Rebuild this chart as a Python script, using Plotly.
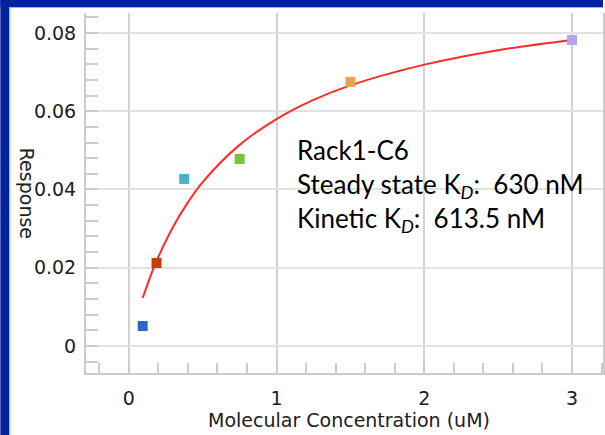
import plotly.graph_objects as go

# Data
conc_uM = [0.09375, 0.1875, 0.375, 0.75, 1.5, 3.0]
response = [0.0051, 0.0212, 0.0427, 0.0478, 0.0675, 0.0782]
point_colors = ["#2c66c8", "#c43c0c", "#48b2c6", "#76c436", "#e6a54e", "#b4a2f0"]

fit_x = [0.094, 0.15, 0.2, 0.3, 0.4, 0.5, 0.75, 1.0, 1.25, 1.5, 2.0, 2.5, 3.0]
fit_y = [0.0123, 0.0182, 0.0228, 0.0305, 0.0367, 0.0419, 0.0514, 0.0580, 0.0629, 0.0666, 0.0719, 0.0756, 0.0782]

x_ticks = [0, 1, 2, 3]
y_ticks = [0, 0.02, 0.04, 0.06, 0.08]
y_ticktext = ["0", "0.02", "0.04", "0.06", "0.08"]

label_lines = ["Rack1-C6",
               "Steady state K<sub><i>D</i></sub>:\u00a0 630 nM",
               "Kinetic K<sub><i>D</i></sub>:\u00a0 613.5 nM"]

W, H = 605, 435
L, R, T, B = 86, 0, 13, 62
pw, ph = W - L - R, H - T - B

def px(xp):
    return (xp - L) / pw

def py(yp):
    return (H - B - yp) / ph

fig = go.Figure()
fig.add_trace(go.Scatter(x=fit_x, y=fit_y, mode="lines", line=dict(color="#ff2a2a", width=2, shape="spline"),
                         hoverinfo="skip", showlegend=False))
fig.add_trace(go.Scatter(x=conc_uM, y=response, mode="markers",
                         marker=dict(symbol="square", size=10, color=point_colors, line=dict(width=0)),
                         showlegend=False))

tickfont = dict(family="DejaVu Sans", size=19, color="#202020")
fig.update_xaxes(range=[-0.29, 3.21], tickvals=x_ticks, ticks="", showgrid=True,
                 gridcolor="#d2d2d2", gridwidth=2, zeroline=False,
                 showline=True, linecolor="#cccccc", linewidth=2,
                 tickfont=tickfont, ticklabelstandoff=7,
                 minor=dict(dtick=0.2, tick0=0, ticks="inside", ticklen=10, tickcolor="#cccccc", tickwidth=2, showgrid=False))
fig.update_yaxes(range=[-0.0069, 0.0851], tickvals=y_ticks, ticktext=y_ticktext,
                 ticks="", showgrid=True, gridcolor="#e2e2e2", gridwidth=2, zeroline=False,
                 showline=True, linecolor="#cccccc", linewidth=2, mirror=True,
                 tickfont=tickfont, ticklabelstandoff=4,
                 minor=dict(dtick=0.004, tick0=0, ticks="inside", ticklen=12, tickcolor="#cccccc", tickwidth=2, showgrid=False))

anns = [dict(text="Response", textangle=90, xref="paper", yref="paper", x=px(27), y=py(193),
             xanchor="center", yanchor="middle", showarrow=False, font=tickfont),
        dict(text="Molecular Concentration (uM)", xref="paper", yref="paper", x=px(350), y=py(420),
             xanchor="center", yanchor="middle", showarrow=False, font=tickfont)]
for txt, yc in zip(label_lines, [150, 185, 220]):
    anns.append(dict(text=txt, xref="paper", yref="paper", x=px(296), y=py(yc), xanchor="left", yanchor="middle",
                     showarrow=False, font=dict(family="Lato", size=26, color="#000000")))

shapes = [
    dict(type="rect", xref="paper", yref="paper", x0=px(0), x1=px(9), y0=py(H), y1=py(0), fillcolor="#0022a0", line=dict(width=0), layer="above"),
    dict(type="rect", xref="paper", yref="paper", x0=px(0), x1=px(W), y0=py(7), y1=py(0), fillcolor="#0022a0", line=dict(width=0), layer="above"),
    dict(type="line", xref="paper", yref="paper", x0=px(9.5), x1=px(9.5), y0=py(H), y1=py(7.5), line=dict(color="#7fd27f", width=1), layer="above"),
    dict(type="line", xref="paper", yref="paper", x0=px(9.5), x1=px(W), y0=py(7.5), y1=py(7.5), line=dict(color="#7fd27f", width=1), layer="above"),
]

fig.update_layout(width=W, height=H, margin=dict(l=L, r=R, t=T, b=B), plot_bgcolor="white", paper_bgcolor="white",
                  annotations=anns, shapes=shapes, showlegend=False)
fig.write_html("out.html")
